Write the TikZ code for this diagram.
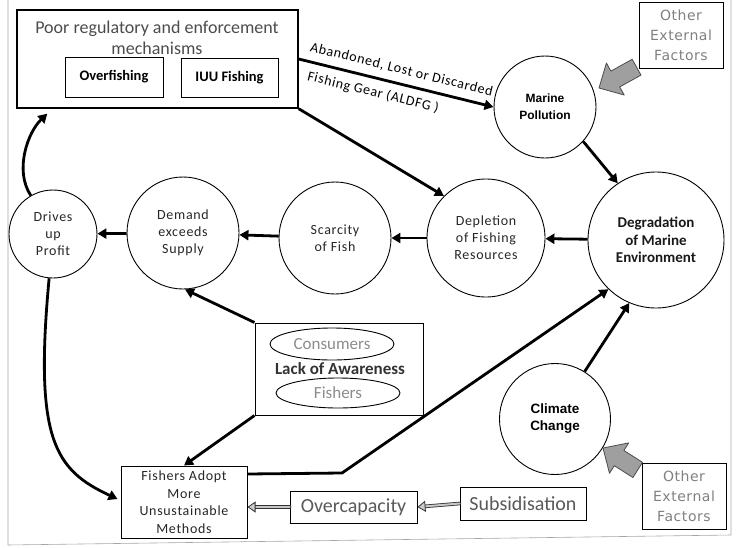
\documentclass[tikz,border=0pt]{standalone}
\usepackage{fontspec}
\setmainfont{Carlito}
\newfontfamily\wide[LetterSpace=5]{Carlito}
\newfontfamily\arialb{Liberation Sans}
\newfontfamily\tah[LetterSpace=4]{DejaVu Sans}
\usetikzlibrary{arrows.meta,shapes.geometric}

\begin{document}
\begin{tikzpicture}[x=1pt,y=-1pt,line cap=round]
	\tikzstyle{circ}=[circle,draw,line width=0.9pt,inner sep=0pt,align=center,text=black!85,font=\wide\fontsize{14}{17}\selectfont];
	\tikzstyle{bx}=[draw,line width=1pt,inner sep=0pt,align=center];
	\tikzstyle{arr}=[line width=2.8pt,line cap=butt,-{Triangle[length=9pt,width=10pt]}];
	\tikzstyle{dbl}=[draw=black!80,line width=0.8pt,double=gray!45,double distance=2pt,-{Triangle[length=8pt,width=11pt,fill=gray!40]}];
	\tikzstyle{fat}=[fill=gray!75,draw=black!70,line width=0.8pt,line join=round];
	\tikzstyle{oef}=[bx,minimum width=84pt,minimum height=66pt,text=black!50,font=\tah\fontsize{14}{20}\selectfont];
	\useasboundingbox (0,0) rectangle (740,547);
	\draw[gray!70,line width=0.6pt] (8,0) -- (8,545) -- (731,535) -- (731,0);
	% boxes
	\node[bx,line width=1.4pt,minimum width=281pt,minimum height=98pt] (poor) at (157.5,59) {};
	\node[text=black!70,align=center,font=\fontsize{18}{21}\selectfont] (poortxt) at (157,38) {Poor regulatory and enforcement\\mechanisms};
	\node[bx,minimum width=98pt,minimum height=40pt,font=\bfseries\fontsize{14.5}{17}\selectfont] (overf) at (114,77) {Overfishing};
	\node[bx,minimum width=97pt,minimum height=39pt,font=\bfseries\fontsize{14.5}{17}\selectfont] (iuu) at (229.5,77.5) {IUU Fishing};
	\node[oef] (oef1) at (681,35) {Other\\External\\Factors};
	\node[oef] (oef2) at (684,496) {Other\\External\\Factors};
	\node[bx,minimum width=168pt,minimum height=92pt] (lack) at (339,369) {};
	\node[ellipse,draw,line width=0.9pt,minimum width=124pt,minimum height=32pt,inner sep=0pt,text=gray!90,font=\fontsize{17}{20}\selectfont] (cons) at (332,344) {Consumers};
	\node[ellipse,draw,line width=0.9pt,minimum width=124pt,minimum height=30pt,inner sep=0pt,text=gray!90,font=\fontsize{17}{20}\selectfont] (fshr) at (338,393) {Fishers};
	\node[text=black!80,font=\bfseries\fontsize{17}{20}\selectfont] (lacktxt) at (340,369) {Lack of Awareness};
	\node[bx,minimum width=126pt,minimum height=72pt,text=black!85,font=\wide\fontsize{14}{17.5}\selectfont] (fish) at (184,502) {Fishers Adopt\\More\\Unsustainable\\Methods};
	\node[bx,minimum width=127pt,minimum height=32pt,text=black!65,font=\fontsize{20}{24}\selectfont] (over) at (353.5,507) {Overcapacity};
	\node[bx,minimum width=126pt,minimum height=33pt,text=black!65,font=\fontsize{20}{24}\selectfont] (subs) at (523,503.5) {Subsidisation};
	% circles
	\node[circ,minimum size=102pt,text=black,font=\arialb\bfseries\fontsize{12}{17}\selectfont] (mp) at (545,107) {Marine\\Pollution};
	\node[circ,minimum size=136pt,text=black!90,font=\bfseries\fontsize{15}{17.5}\selectfont] (deg) at (656,240) {Degradation\\of Marine\\Environment};
	\node[circ,minimum size=118pt] (dep) at (486,238) {Depletion\\of Fishing\\Resources};
	\node[circ,minimum size=112pt] (scar) at (335,238) {Scarcity\\of Fish};
	\node[circ,minimum size=112pt] (dem) at (183,233) {Demand\\exceeds\\Supply};
	\node[circ,minimum size=88pt] (drv) at (53,234) {Drives\\up\\Profit};
	\node[circ,minimum size=111pt,text=black,font=\arialb\bfseries\fontsize{13.5}{17}\selectfont] (clim) at (555,419) {Climate\\Change};
	\coordinate (bend) at (342,473);
	% connectors
	\draw[arr] (poor.east) -- node[sloped,above,pos=0.51,inner sep=7pt,font=\wide\fontsize{14}{17}\selectfont]{Abandoned, Lost or Discarded}
		node[sloped,below,pos=0.40,inner sep=7pt,font=\wide\fontsize{14}{17}\selectfont]{Fishing Gear (ALDFG )} (mp.west);
	\draw[arr] (poor.south east) -- (dep.135);
	\draw[arr] (mp.-42) -- (deg.124);
	\draw[arr] (deg) -- (dep);
	\draw[arr] (dep) -- (scar);
	\draw[arr] (scar) -- (dem);
	\draw[arr] (dem) -- (drv);
	\draw[arr] (drv.120) .. controls (14,170) and (28,132) .. ([xshift=31pt,yshift=-5pt]poor.south west);
	\draw[arr] (drv.-95) .. controls (34,440) and (55,470) .. ([xshift=-3pt,yshift=3pt]fish.west);
	\draw[arr] (lack.north west) -- (dem.-88);
	\draw[arr] (lack.south west) -- (fish.north);
	\draw[arr] ([yshift=28pt]fish.east) -- (bend) -- (deg.-134);
	\draw[arr] (clim.58) -- (deg.-113);
	\draw[dbl] (subs.west) -- (over.east);
	\draw[dbl] (over.west) -- (over.west -| fish.east);
	% grey arrows
	\draw[fat] (599,88) -- (606.4,63) -- (610.9,71.1) -- (632.2,59.3) -- (641,75.1) -- (619.7,86.9) -- (624.2,95) -- cycle;
	\draw[fat] (603,448) -- (628.7,442.9) -- (623.9,450.5) -- (642.5,462.3) -- (632.9,477.5) -- (614.3,465.7) -- (609.5,473.3) -- cycle;
\end{tikzpicture}
\end{document}
